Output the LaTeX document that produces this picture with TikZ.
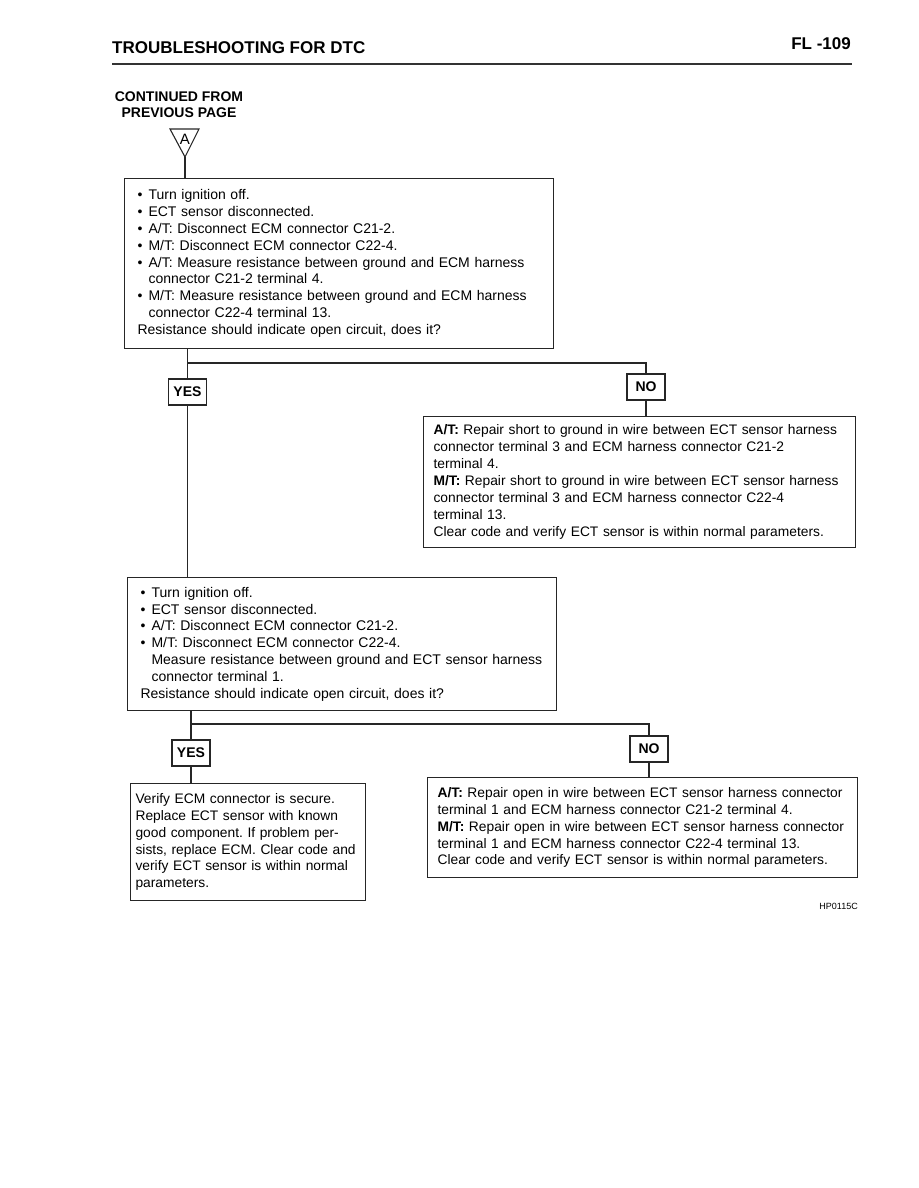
\documentclass[tikz,border=0pt]{standalone}
\usepackage{fontspec}
\setmainfont{Liberation Sans}
\usetikzlibrary{positioning}

\newcommand{\itembul}{\makebox[11pt][l]{\textbullet}}
\newcommand{\itemcont}{\hspace*{11pt}}

\begin{document}
\frenchspacing
\begin{tikzpicture}[
    x=1pt, y=-1pt,
    font=\fontsize{14}{16.8}\selectfont\frenchspacing,
    check/.style={rectangle, draw=black!85, line width=1.1pt, anchor=north west, align=left, inner xsep=13pt, inner ysep=0pt},
    fixbox/.style={rectangle, draw=black!85, line width=1.1pt, anchor=north west, align=left, inner xsep=10pt, inner ysep=0pt, font=\fontsize{13.8}{16.9}\selectfont\frenchspacing},
    answer/.style={rectangle, draw=black!85, line width=1.1pt, minimum width=38pt, minimum height=26pt, inner sep=0pt, font=\fontsize{14}{16}\selectfont\bfseries},
    heading/.style={font=\fontsize{17}{20}\selectfont\bfseries, inner sep=0pt},
    wire/.style={draw=black!85, line width=1.1pt}
]
\useasboundingbox (0,0) rectangle (918,1188);

% Header
\node[heading, anchor=base west] (title) at (112,54) {TROUBLESHOOTING FOR DTC};
\node[heading, anchor=base east] (page) at (851,50) {FL -109};
\draw[black!80, line width=2.5pt] (112,64) -- (852,64);

% Continued marker
\node[font=\fontsize{14}{16}\selectfont\bfseries, align=center, inner sep=0pt] (cont) at (179,105) {CONTINUED FROM\\PREVIOUS PAGE};
\draw[line width=1.1pt, black!85] (170,129) -- (199,129) -- (185,157) -- cycle;
\node[font=\fontsize{15}{17}\selectfont, inner sep=0pt] (mark) at (185,139) {A};
\coordinate (tip) at (185,157);

% First check
\node[check, text width=403pt, minimum height=170pt] (check1) at (124,178) {\itembul Turn ignition off.\\
\itembul ECT sensor disconnected.\\
\itembul A/T: Disconnect ECM connector C21-2.\\
\itembul M/T: Disconnect ECM connector C22-4.\\
\itembul A/T: Measure resistance between ground and ECM harness\\
\itemcont connector C21-2 terminal 4.\\
\itembul M/T: Measure resistance between ground and ECM harness\\
\itemcont connector C22-4 terminal 13.\\
Resistance should indicate open circuit, does it?};

% First answers
\node[answer] (yes1) at (187.5,392) {YES};
\node[answer] (no1) at (646,387) {NO};
\coordinate (split1) at (187.5,363);

\node[fixbox, text width=412pt, minimum height=131pt] (fix1) at (423,416) {\textbf{A/T:} Repair short to ground in wire between ECT sensor harness\\
connector terminal 3 and ECM harness connector C21-2\\
terminal 4.\\
\textbf{M/T:} Repair short to ground in wire between ECT sensor harness\\
connector terminal 3 and ECM harness connector C22-4\\
terminal 13.\\
Clear code and verify ECT sensor is within normal parameters.};

% Second check
\node[check, text width=403pt, minimum height=133pt] (check2) at (127,577) {\itembul Turn ignition off.\\
\itembul ECT sensor disconnected.\\
\itembul A/T: Disconnect ECM connector C21-2.\\
\itembul M/T: Disconnect ECM connector C22-4.\\
\itemcont Measure resistance between ground and ECT sensor harness\\
\itemcont connector terminal 1.\\
Resistance should indicate open circuit, does it?};

% Second answers
\node[answer] (yes2) at (191,753) {YES};
\node[answer] (no2) at (649,749) {NO};
\coordinate (split2) at (191,724);

\node[fixbox, inner xsep=5pt, text width=225pt, minimum height=117pt] (fix2) at (130,783) {Verify ECM connector is secure.\\
Replace ECT sensor with known\\
good component. If problem per-\\
sists, replace ECM. Clear code and\\
verify ECT sensor is within normal\\
parameters.};

\node[fixbox, text width=410pt, minimum height=100pt] (fix3) at (427,777) {\textbf{A/T:} Repair open in wire between ECT sensor harness connector\\
terminal 1 and ECM harness connector C21-2 terminal 4.\\
\textbf{M/T:} Repair open in wire between ECT sensor harness connector\\
terminal 1 and ECM harness connector C22-4 terminal 13.\\
Clear code and verify ECT sensor is within normal parameters.};

\node[font=\fontsize{9}{10}\selectfont, anchor=base east, inner sep=0pt] (code) at (858,909) {HP0115C};

% Connections
\draw[wire] (tip) -- (tip |- check1.north);
\draw[wire] (check1.south -| yes1.north) -- (yes1.north);
\draw[wire] (split1) -| (no1.north);
\draw[wire] (no1.south) -- (no1.south |- fix1.north);
\draw[wire] (yes1.south) -- (yes1.south |- check2.north);
\draw[wire] (check2.south -| yes2.north) -- (yes2.north);
\draw[wire] (split2) -| (no2.north);
\draw[wire] (yes2.south) -- (yes2.south |- fix2.north);
\draw[wire] (no2.south) -- (no2.south |- fix3.north);

\end{tikzpicture}
\end{document}
